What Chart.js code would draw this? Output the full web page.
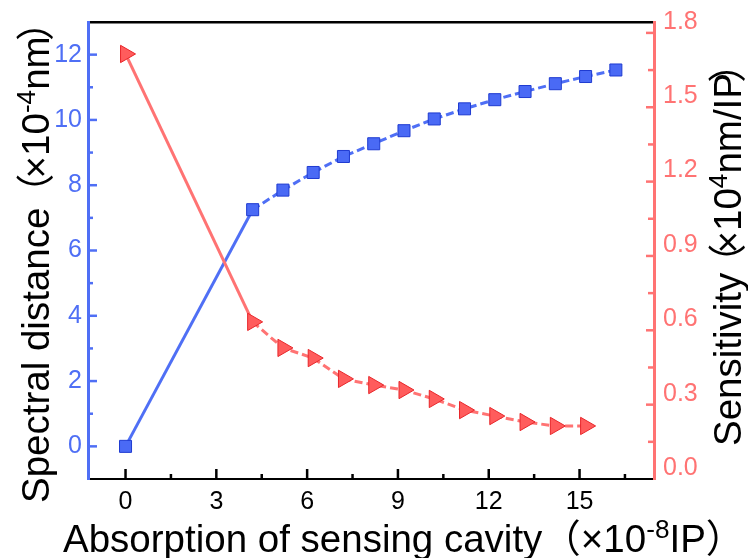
<!DOCTYPE html>
<html>
<head>
<meta charset="utf-8">
<title>Spectral distance and sensitivity</title>
<script src="https://cdn.jsdelivr.net/npm/chart.js"></script>
<style>
  html, body { margin: 0; padding: 0; background: #fff; }
  canvas { display: block; }
</style>
</head>
<body>
<canvas id="myChart" width="748" height="558"></canvas>
<script>
// DATA SECTION
var absorption = [0, 4.2, 5.2, 6.2, 7.2, 8.2, 9.2, 10.2, 11.2, 12.2, 13.2, 14.2, 15.2, 16.2];
var spectralDistance = [0, 7.25, 7.85, 8.39, 8.88, 9.27, 9.67, 10.03, 10.34, 10.62, 10.87, 11.11, 11.33, 11.53];
var sensitivity = [1.715, 0.634, 0.529, 0.488, 0.404, 0.379, 0.359, 0.323, 0.278, 0.254, 0.230, 0.214, 0.214];

var xTickLabels = [0, 3, 6, 9, 12, 15];
var leftTickLabels = [0, 2, 4, 6, 8, 10, 12];
var rightTickLabels = ['0.0', '0.3', '0.6', '0.9', '1.2', '1.5', '1.8'];

var BLUE = '#4f6ff5';
var RED = '#ff7373';
var FONT = "'Liberation Sans', Arial, 'Noto Sans CJK SC', sans-serif";

function near(v, list) {
    for (var i = 0; i < list.length; i++) {
        if (Math.abs(parseFloat(list[i]) - v) < 1e-6) return true;
    }
    return false;
}

function points(xs, ys) {
    return ys.map(function(y, i) { return {x: xs[i], y: y}; });
}

// first segment solid, the rest dashed
var dashAfterFirst = function(c) { return c.p0DataIndex === 0 ? [] : [8, 4]; };

// no extra room around the plot, sizes are fixed
function fixSize(w, h) {
    return function(s) {
        if (w !== null) s.width = w;
        if (h !== null) s.height = h;
        s.paddingTop = 0; s.paddingBottom = 0; s.paddingLeft = 0; s.paddingRight = 0;
    };
}

// TITLES SECTION (drawn with real superscripts)
// run = [text, superscript?, trim] ; trim narrows the wide CJK brackets
function drawRich(c, runs, x, y, rot, size) {
    c.save();
    c.translate(x, y);
    c.rotate(rot);
    c.fillStyle = '#000';
    c.textAlign = 'left';
    c.textBaseline = 'alphabetic';
    var cx = 0;
    runs.forEach(function(r) {
        var s = r[1] ? size * 0.68 : size;
        var trim = (r[2] || 0) * size;
        c.font = s + 'px ' + FONT;
        c.fillText(r[0], cx - trim, r[1] ? -size * 0.36 : 0);
        cx += c.measureText(r[0]).width - 2 * trim;
    });
    c.restore();
}

var axisTitles = {
    id: 'axisTitles',
    afterDraw: function(chart) {
        var c = chart.ctx;
        drawRich(c, [['Absorption of sensing cavity（×10'], ['-8', true], ['IP）']], 63, 552, 0, 38.5);
        drawRich(c, [['Spectral distance'], ['（', false, 0.12], ['×10'], ['-4', true], ['nm'], ['）', false, 0.12]], 49, 503, -Math.PI / 2, 38.5);
        drawRich(c, [['Sensitivity'], ['（', false, 0.25], ['×10'], ['4', true], ['nm/IP'], ['）', false, 0.25]], 741, 446, -Math.PI / 2, 38.5);
    }
};

// inward tick marks, long on labelled values, short between
var tickMarks = {
    id: 'tickMarks',
    afterDraw: function(chart) {
        var c = chart.ctx;
        [['x', xTickLabels, 10, 5, '#000'], ['y', leftTickLabels, 9, 5, BLUE], ['yR', rightTickLabels, 8, 6, RED]].forEach(function(a) {
            var scale = chart.scales[a[0]];
            c.save();
            c.strokeStyle = a[4];
            c.lineWidth = 2.5;
            c.setLineDash([]);
            scale.ticks.forEach(function(t) {
                var len = near(t.value, a[1]) ? a[2] : a[3];
                var p = scale.getPixelForValue(t.value);
                if (scale.isHorizontal()) {
                    c.beginPath();
                    c.moveTo(p, scale.top); c.lineTo(p, scale.top - len);
                    c.stroke();
                } else if (p > scale.top + 2 && p < scale.bottom - 2) {
                    c.beginPath();
                    if (scale.position === 'left') { c.moveTo(scale.right, p); c.lineTo(scale.right + len, p); }
                    else { c.moveTo(scale.left, p); c.lineTo(scale.left - len, p); }
                    c.stroke();
                }
            });
            c.restore();
        });
    }
};

// CHART SECTION
var ctx = document.getElementById('myChart').getContext('2d');

var chart = new Chart(ctx, {
    type: 'line',
    data: {
        datasets: [{
            label: 'Sensitivity',
            data: points(absorption, sensitivity),
            yAxisID: 'yR',
            borderColor: RED,
            borderWidth: 3,
            pointStyle: 'triangle',
            pointRotation: 90,
            pointRadius: 10,
            pointBackgroundColor: '#ff5c5c',
            pointBorderColor: '#e8262a',
            pointBorderWidth: 1,
            segment: { borderDash: dashAfterFirst }
        },
        {
            label: 'Spectral distance',
            data: points(absorption, spectralDistance),
            yAxisID: 'y',
            borderColor: BLUE,
            borderWidth: 3,
            pointStyle: 'rect',
            pointRadius: 8.5,
            pointBackgroundColor: '#4a6af5',
            pointBorderColor: '#1f3bd1',
            pointBorderWidth: 1,
            segment: { borderDash: dashAfterFirst }
        }]
    },
    options: {
        responsive: false,
        animation: false,
        layout: { padding: { left: 0, right: 0, top: 22, bottom: 0 } },
        plugins: { legend: { display: false }, tooltip: { enabled: false } },
        scales: {
            x: {
                type: 'linear',
                position: 'bottom',
                min: -1.24,
                max: 17.46,
                afterFit: fixSize(null, 79),
                border: { display: true, color: '#000', width: 2 },
                grid: { drawOnChartArea: false, drawTicks: false },
                ticks: {
                    stepSize: 1.5,
                    includeBounds: false,
                    autoSkip: false,
                    maxRotation: 0,
                    padding: 8,
                    color: '#000',
                    font: { family: FONT, size: 25 },
                    callback: function(v) { return near(v, xTickLabels) ? String(Math.round(v)) : ''; }
                }
            },
            xTop: {
                type: 'linear',
                position: 'top',
                display: true,
                min: -1.24,
                max: 17.46,
                afterFit: fixSize(null, 0),
                border: { display: true, color: '#000', width: 2.5 },
                grid: { display: false },
                ticks: { display: false }
            },
            y: {
                type: 'linear',
                position: 'left',
                min: -1,
                max: 13,
                afterFit: fixSize(88, null),
                border: { display: true, color: BLUE, width: 3 },
                grid: { drawOnChartArea: false, drawTicks: false },
                ticks: {
                    stepSize: 1,
                    includeBounds: false,
                    autoSkip: false,
                    padding: 6,
                    color: BLUE,
                    font: { family: FONT, size: 25 },
                    callback: function(v) { return near(v, leftTickLabels) ? String(v) : ''; }
                }
            },
            yR: {
                type: 'linear',
                position: 'right',
                min: 0,
                max: 1.844,
                afterFit: fixSize(94, null),
                border: { display: true, color: RED, width: 3 },
                grid: { drawOnChartArea: false, drawTicks: false },
                ticks: {
                    stepSize: 0.15,
                    includeBounds: false,
                    autoSkip: false,
                    padding: 9,
                    labelOffset: -11,
                    color: RED,
                    font: { family: FONT, size: 25 },
                    callback: function(v) { return near(v, rightTickLabels) ? v.toFixed(1) : ''; }
                }
            }
        }
    },
    plugins: [tickMarks, axisTitles]
});
</script>
</body>
</html>
